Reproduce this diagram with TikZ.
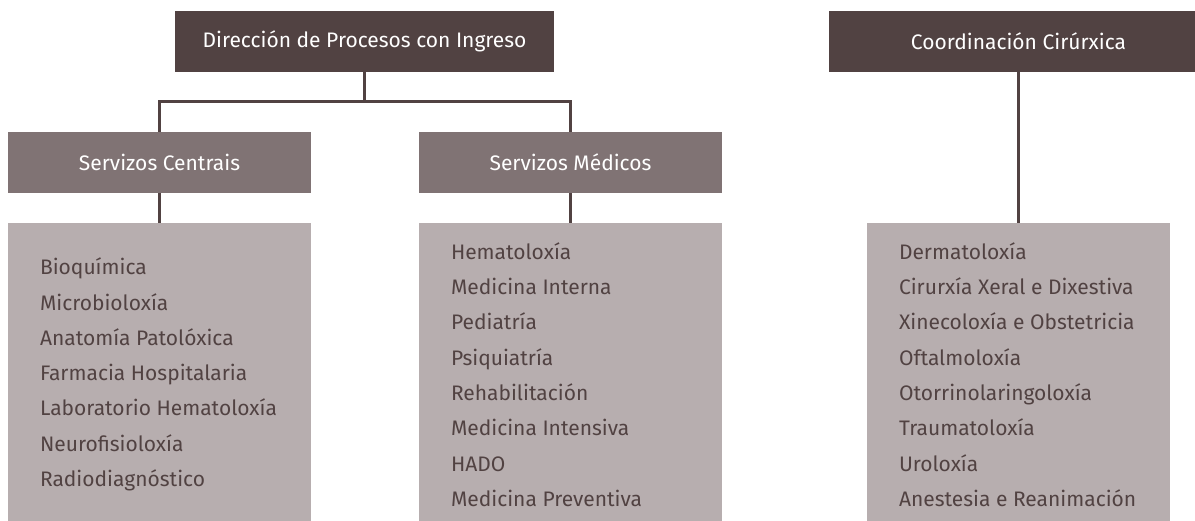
\documentclass[tikz,border=0pt]{standalone}
\usepackage{fontspec}
\setmainfont{Fira Sans}
\usetikzlibrary{positioning}
\definecolor{oscuro}{RGB}{81,66,66}
\definecolor{medio}{RGB}{128,115,116}
\definecolor{claro}{RGB}{183,174,175}

\begin{document}
\begin{tikzpicture}[x=1pt, y=-1pt, semithick,
            direccion/.style ={rectangle, fill=oscuro, text=white, minimum width=379pt,
            minimum height=61pt, inner sep=0pt, font=\fontsize{21}{24}\selectfont},
            servizo/.style ={rectangle, fill=medio, text=white, minimum width=303pt,
            minimum height=61pt, inner sep=0pt, font=\fontsize{21}{24}\selectfont},
            caixa/.style ={rectangle, fill=claro, minimum width=303pt, minimum height=299pt, inner sep=0pt},
            lista/.style ={anchor=west, align=left, text=oscuro, inner sep=0pt,
            font=\fontsize{21}{35.3}\selectfont},
            liña/.style ={draw=oscuro, line width=3pt}]

        \useasboundingbox (0,0) rectangle (1195,521);

        %\node [estilo] (nome) at (x,y) {texto};

        \node[direccion] (DPI) at (364.5, 41.5) {Dirección de Procesos con Ingreso};
        \node[direccion] (CC) at (1018.5, 41.5) {Coordinación Cirúrxica};

        \node[servizo] (SC) at (159.5, 162.5) {Servizos Centrais};
        \node[servizo] (SM) at (570.5, 162.5) {Servizos Médicos};

        \node[caixa] (LC) at (159.5, 372.5) {};
        \node[caixa] (LM) at (570.5, 372.5) {};
        \node[caixa] (LX) at (1018.5, 372.5) {};

        \node[lista] (TC) at ([xshift=32pt, yshift=-2pt]LC.west)
            {Bioquímica\\Microbioloxía\\Anatomía Patolóxica\\Farmacia Hospitalaria\\Laboratorio Hematoloxía\\Neurofisioloxía\\Radiodiagnóstico};
        \node[lista] (TM) at ([xshift=32pt, yshift=-2pt]LM.west)
            {Hematoloxía\\Medicina Interna\\Pediatría\\Psiquiatría\\Rehabilitación\\Medicina Intensiva\\HADO\\Medicina Preventiva};
        \node[lista] (TX) at ([xshift=32pt, yshift=-2pt]LX.west)
            {Dermatoloxía\\Cirurxía Xeral e Dixestiva\\Xinecoloxía e Obstetricia\\Oftalmoloxía\\Otorrinolaringoloxía\\Traumatoloxía\\Uroloxía\\Anestesia e Reanimación};

        \coordinate (rama) at (364.5, 101.5);

        \path[liña] (DPI.south) -- (rama);
        \path[liña] (SC.north) |- (rama) -| (SM.north);
        \path[liña] (SC.south) -- (LC.north);
        \path[liña] (SM.south) -- (LM.north);
        \path[liña] (CC.south) -- (LX.north);

    \end{tikzpicture}
\end{document}
